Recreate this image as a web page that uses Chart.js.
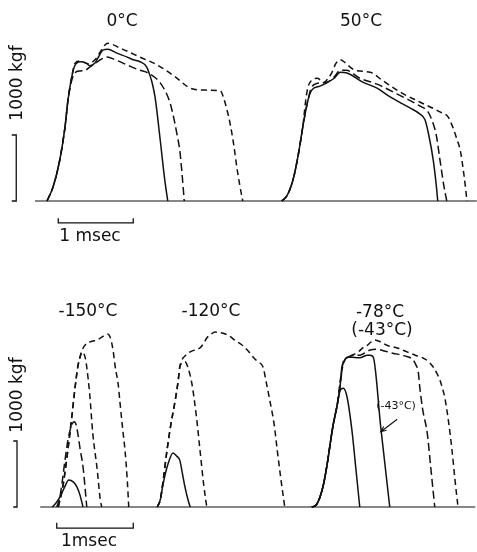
<!DOCTYPE html>
<html>
<head>
<meta charset="utf-8">
<script src="https://cdn.jsdelivr.net/npm/chart.js@4"></script>
<style>
    html, body { margin: 0; padding: 0; background: #fff; }
    #wrap { position: relative; width: 477px; height: 552px; }
    canvas { position: absolute; left: 0; }
    #topChart { top: 0; }
    #bottomChart { top: 276px; }
</style>
</head>
<body>
<div id="wrap">
    <canvas id="topChart" width="477" height="276"></canvas>
    <canvas id="bottomChart" width="477" height="276"></canvas>
</div>
<script>
// Load-time traces, [time (msec), load (kgf)]

// 0 °C
const zeroSolid = [[0.16,0],[0.24,210],[0.33,620],[0.40,1120],[0.44,1530],[0.49,1880],[0.53,2050],[0.60,2110],[0.68,2090],[0.73,2050],[0.80,2090],[0.84,2170],[0.91,2290],[0.97,2300],[1.09,2240],[1.23,2180],[1.31,2140],[1.40,2110],[1.49,2030],[1.53,1910],[1.56,1800],[1.60,1580],[1.67,920],[1.73,320],[1.77,0]];
const zeroDashA = [[0.16,0],[0.24,210],[0.33,620],[0.40,1120],[0.44,1530],[0.49,1830],[0.53,1940],[0.60,1970],[0.67,1980],[0.73,2030],[0.80,2080],[0.87,2140],[0.96,2180],[1.07,2140],[1.23,2060],[1.40,1980],[1.49,1950],[1.67,1790],[1.76,1610],[1.80,1490],[1.85,1260],[1.89,1030],[1.93,770],[1.96,420],[1.99,0]];
const zeroDashB = [[0.16,0],[0.24,210],[0.33,620],[0.40,1120],[0.44,1530],[0.49,1880],[0.53,2080],[0.60,2120],[0.71,2080],[0.80,2140],[0.87,2260],[0.93,2360],[0.97,2390],[1.13,2320],[1.40,2180],[1.63,2060],[1.87,1880],[2.07,1710],[2.27,1680],[2.47,1670],[2.51,1580],[2.56,1380],[2.60,1180],[2.65,850],[2.69,520],[2.73,240],[2.77,0]];

// 50 °C
const fiftySolid = [[3.29,0],[3.36,80],[3.44,320],[3.51,700],[3.57,1120],[3.64,1530],[3.69,1680],[3.80,1740],[3.89,1790],[3.99,1860],[4.07,1950],[4.16,1940],[4.37,1800],[4.56,1710],[4.73,1580],[5.00,1410],[5.13,1320],[5.20,1230],[5.25,1000],[5.31,620],[5.35,240],[5.37,0]];
const fiftyDashA = [[3.29,0],[3.36,80],[3.44,320],[3.51,700],[3.57,1120],[3.64,1530],[3.69,1730],[3.80,1790],[3.89,1800],[3.99,1880],[4.07,1980],[4.15,1980],[4.33,1860],[4.56,1770],[4.83,1620],[5.13,1440],[5.24,1350],[5.29,1230],[5.35,1000],[5.40,620],[5.45,240],[5.49,0]];
const fiftyDashB = [[3.29,0],[3.36,80],[3.44,320],[3.51,700],[3.57,1120],[3.61,1530],[3.64,1730],[3.69,1830],[3.77,1860],[3.84,1790],[3.91,1860],[3.96,1950],[4.01,2080],[4.07,2140],[4.12,2110],[4.17,2060],[4.27,1980],[4.47,1950],[4.63,1830],[4.87,1650],[5.13,1500],[5.40,1350],[5.51,1270],[5.57,1120],[5.63,920],[5.67,770],[5.72,390],[5.76,0]];

// -150 °C
const m150Solid = [[0.23,0],[0.28,60],[0.33,150],[0.39,290],[0.45,410],[0.51,380],[0.56,300],[0.60,180],[0.64,0]];
const m150DashA = [[0.29,0],[0.33,140],[0.36,360],[0.40,710],[0.44,1020],[0.48,1210],[0.52,1290],[0.55,1240],[0.57,1120],[0.60,890],[0.64,610],[0.67,260],[0.69,0]];
const m150DashB = [[0.31,0],[0.37,300],[0.43,790],[0.49,1360],[0.53,1770],[0.57,2120],[0.60,2270],[0.63,2350],[0.67,2260],[0.69,2120],[0.73,1700],[0.77,1120],[0.83,560],[0.87,110],[0.89,0]];
const m150DashC = [[0.31,0],[0.37,300],[0.43,790],[0.49,1360],[0.53,1770],[0.57,2120],[0.60,2270],[0.63,2380],[0.69,2480],[0.76,2510],[0.83,2530],[0.91,2590],[0.96,2620],[1.00,2580],[1.04,2380],[1.07,2120],[1.11,1850],[1.13,1620],[1.17,1170],[1.20,860],[1.23,410],[1.25,0]];

// -120 °C
const m120Solid = [[1.63,0],[1.67,110],[1.71,360],[1.77,640],[1.84,820],[1.89,770],[1.93,710],[1.97,480],[2.00,300],[2.04,110],[2.07,0]];
const m120DashA = [[1.63,0],[1.67,110],[1.71,410],[1.76,860],[1.81,1240],[1.87,1620],[1.91,1920],[1.93,2120],[1.97,2180],[2.00,2200],[2.04,2110],[2.09,1880],[2.15,1390],[2.20,860],[2.25,330],[2.29,0]];
const m120DashB = [[1.63,0],[1.67,110],[1.71,410],[1.76,860],[1.81,1240],[1.87,1620],[1.91,1920],[1.93,2120],[1.96,2230],[2.01,2300],[2.07,2350],[2.13,2380],[2.20,2410],[2.25,2480],[2.29,2560],[2.35,2620],[2.40,2650],[2.48,2640],[2.56,2610],[2.63,2560],[2.69,2500],[2.73,2480],[2.83,2380],[2.91,2270],[2.97,2200],[3.04,2120],[3.09,1850],[3.13,1620],[3.19,1240],[3.23,860],[3.28,410],[3.33,0]];

// -78 °C and -43 °C
const m78Solid = [[3.69,0],[3.75,30],[3.80,150],[3.85,360],[3.89,610],[3.93,910],[3.97,1210],[4.03,1550],[4.07,1770],[4.11,1800],[4.16,1670],[4.23,1120],[4.28,560],[4.33,0]];
const m43Solid = [[3.69,0],[3.75,30],[3.80,150],[3.85,360],[3.89,610],[3.93,910],[3.97,1210],[4.03,1550],[4.07,1850],[4.09,2110],[4.12,2200],[4.16,2270],[4.23,2270],[4.31,2260],[4.36,2270],[4.43,2300],[4.47,2300],[4.51,2270],[4.61,1210],[4.73,0]];
const m78DashA = [[3.69,0],[3.75,30],[3.80,150],[3.85,360],[3.89,610],[3.93,910],[3.97,1210],[4.03,1550],[4.07,1850],[4.11,2200],[4.16,2260],[4.24,2300],[4.33,2300],[4.47,2380],[4.56,2390],[4.67,2360],[4.77,2330],[4.93,2290],[5.04,2230],[5.08,2150],[5.11,2050],[5.13,1820],[5.17,1470],[5.23,1120],[5.28,560],[5.33,0]];
const m78DashB = [[3.69,0],[3.75,30],[3.80,150],[3.85,360],[3.89,610],[3.93,910],[3.97,1210],[4.03,1550],[4.07,1920],[4.12,2200],[4.17,2270],[4.23,2300],[4.31,2350],[4.37,2410],[4.43,2450],[4.48,2500],[4.53,2530],[4.61,2500],[4.69,2450],[4.83,2410],[4.96,2350],[5.07,2300],[5.17,2260],[5.24,2210],[5.31,2120],[5.37,2000],[5.40,1920],[5.47,1620],[5.52,1240],[5.56,860],[5.60,410],[5.64,0]];

// zero lines and scale bars (1000 kgf, 1 msec)
const topBase = [[0,0],[5.89,0]];
const bottomBase = [[0.07,0],[5.87,0]];
const topKgfBar = [[-0.31,1000],[-0.25,1000],[-0.25,0],[-0.31,0]];
const topMsecBar = [[0.31,-260],[0.31,-330],[1.31,-330],[1.31,-260]];
const bottomKgfBar = [[-0.29,1000],[-0.24,1000],[-0.24,0],[-0.29,0]];
const bottomMsecBar = [[0.29,-240],[0.29,-320],[1.31,-320],[1.31,-240]];

const INK = '#111';
const LONG = [8, 4];
const SHORT = [6, 4];

function trace(pts, dash, width) {
    return {
        data: pts.map(p => ({ x: p[0], y: p[1] })),
        borderColor: INK,
        borderWidth: width || 1.5,
        borderDash: dash || [],
        pointRadius: 0,
        fill: false,
        cubicInterpolationMode: 'monotone'
    };
}

function straight(pts, width) {
    return {
        data: pts.map(p => ({ x: p[0], y: p[1] })),
        borderColor: INK,
        borderWidth: width || 1.3,
        pointRadius: 0,
        fill: false,
        tension: 0
    };
}

// writes the labels (and the small arrow) on top of the traces
const textPlugin = {
    id: 'texts',
    afterDraw(chart, args, opts) {
        const ctx = chart.ctx;
        ctx.save();
        ctx.fillStyle = INK;
        ctx.strokeStyle = INK;
        ctx.textAlign = 'center';
        ctx.textBaseline = 'middle';
        (opts.items || []).forEach(it => {
            ctx.font = (it.size || 17) + 'px "DejaVu Sans"';
            ctx.save();
            ctx.translate(it.x, it.y);
            if (it.rot) ctx.rotate(it.rot);
            ctx.fillText(it.text, 0, 0);
            ctx.restore();
        });
        if (opts.arrow) {
            const xs = chart.scales.x, ys = chart.scales.y;
            const x1 = xs.getPixelForValue(opts.arrow.from[0]), y1 = ys.getPixelForValue(opts.arrow.from[1]);
            const x2 = xs.getPixelForValue(opts.arrow.to[0]), y2 = ys.getPixelForValue(opts.arrow.to[1]);
            const a = Math.atan2(y2 - y1, x2 - x1);
            ctx.lineWidth = 1.1;
            ctx.beginPath();
            ctx.moveTo(x1, y1);
            ctx.lineTo(x2, y2);
            ctx.moveTo(x2 - 6 * Math.cos(a - 0.4), y2 - 6 * Math.sin(a - 0.4));
            ctx.lineTo(x2, y2);
            ctx.lineTo(x2 - 6 * Math.cos(a + 0.4), y2 - 6 * Math.sin(a + 0.4));
            ctx.stroke();
        }
        ctx.restore();
    }
};

function makeChart(id, datasets, yMin, yMax, texts) {
    return new Chart(document.getElementById(id).getContext('2d'), {
        type: 'line',
        data: { datasets: datasets },
        options: {
            responsive: false,
            animation: false,
            devicePixelRatio: 1,
            events: [],
            layout: { padding: 0 },
            plugins: {
                legend: { display: false },
                tooltip: { enabled: false },
                texts: texts
            },
            scales: {
                x: { type: 'linear', display: false, min: -0.4667, max: 5.8933 },
                y: { type: 'linear', display: false, min: yMin, max: yMax }
            }
        },
        plugins: [textPlugin]
    });
}

makeChart('topChart', [
    straight(topBase, 1.2),
    straight(topKgfBar),
    straight(topMsecBar),
    trace(zeroSolid),
    trace(zeroDashA, LONG),
    trace(zeroDashB, SHORT),
    trace(fiftySolid),
    trace(fiftyDashA, LONG),
    trace(fiftyDashB, SHORT)
], -1136.4, 3045.5, {
    items: [
        { text: '0°C', x: 122, y: 22 },
        { text: '50°C', x: 361, y: 22 },
        { text: '1 msec', x: 90, y: 237 },
        { text: '1000 kgf', x: 18, y: 83, rot: -Math.PI / 2 }
    ]
});

makeChart('bottomChart', [
    straight(bottomBase, 1.2),
    straight(bottomKgfBar),
    straight(bottomMsecBar),
    trace(m150Solid),
    trace(m150DashA, LONG),
    trace(m150DashB, SHORT),
    trace(m150DashC, SHORT),
    trace(m120Solid),
    trace(m120DashA, SHORT),
    trace(m120DashB, SHORT),
    trace(m78Solid),
    trace(m43Solid),
    trace(m78DashA, LONG),
    trace(m78DashB, SHORT)
], -681.8, 3500, {
    items: [
        { text: '-150°C', x: 88, y: 36 },
        { text: '-120°C', x: 211, y: 36 },
        { text: '-78°C', x: 380, y: 37 },
        { text: '(-43°C)', x: 382, y: 55 },
        { text: '(-43°C)', x: 396, y: 130, size: 11 },
        { text: '1msec', x: 89, y: 266 },
        { text: '1000 kgf', x: 18, y: 119, rot: -Math.PI / 2 }
    ],
    arrow: { from: [4.83, 1330], to: [4.61, 1140] }
});
</script>
</body>
</html>
